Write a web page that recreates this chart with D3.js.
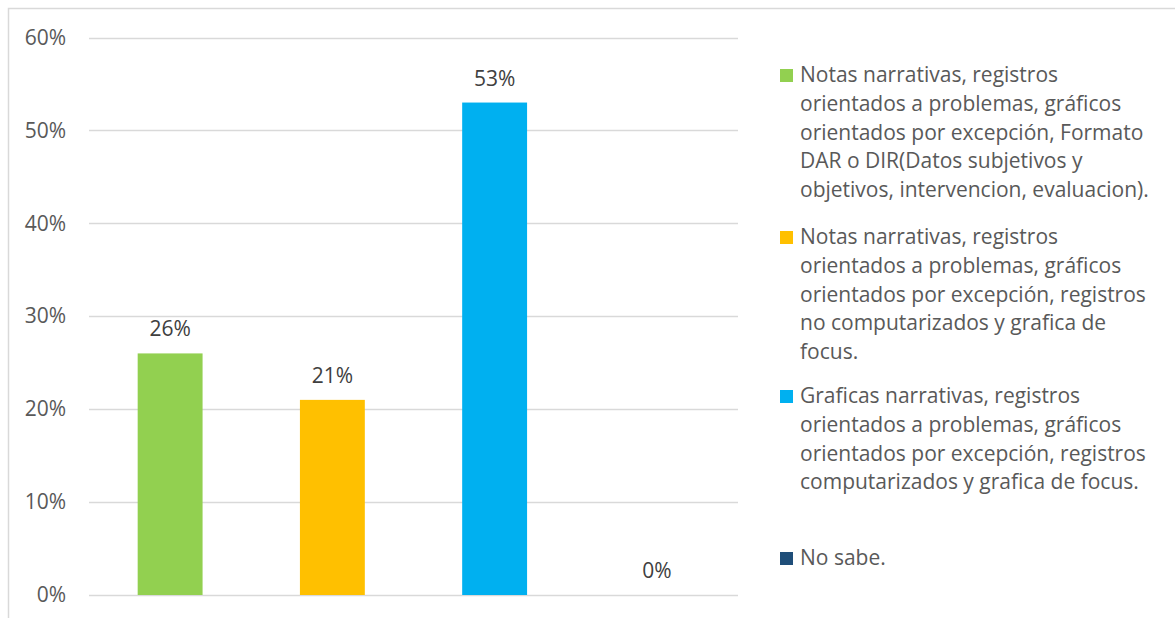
<!DOCTYPE html>
<html>
<head>
<meta charset="utf-8">
<script src="https://cdn.jsdelivr.net/npm/d3@7"></script>
<style>
  html, body { margin: 0; padding: 0; background: #fff; }
  svg { display: block; font-family: "Open Sans", Lato, sans-serif; }
</style>
</head>
<body>
<svg id="chart" width="1175" height="618"></svg>
<script>
// Categories (legend entries), one bar each
const categories = [
  "Notas narrativas, registros orientados a problemas, gráficos orientados por excepción, Formato DAR o DIR(Datos subjetivos y objetivos, intervencion, evaluacion).",
  "Notas narrativas, registros orientados a problemas, gráficos orientados por excepción, registros no computarizados y grafica de focus.",
  "Graficas narrativas, registros orientados a problemas, gráficos orientados por excepción, registros computarizados y grafica de focus.",
  "No sabe."
];
// Wrapped legend lines for each category
const legendLines = [
  ["Notas narrativas, registros", "orientados a problemas, gráficos", "orientados por excepción, Formato", "DAR o DIR(Datos subjetivos y", "objetivos, intervencion, evaluacion)."],
  ["Notas narrativas, registros", "orientados a problemas, gráficos", "orientados por excepción, registros", "no computarizados y grafica de", "focus."],
  ["Graficas narrativas, registros", "orientados a problemas, gráficos", "orientados por excepción, registros", "computarizados y grafica de focus."],
  ["No sabe."]
];
const values = [0.26, 0.21, 0.53, 0];
const colors = ["#92d050", "#ffc000", "#00b0f0", "#1f4e79"];
const yTicks = [0, 0.1, 0.2, 0.3, 0.4, 0.5, 0.6];

const FONT = "21px";
const svg = d3.select("#chart");

// Outer frame (left and top edges visible)
svg.append("rect")
  .attr("x", 8.5).attr("y", 8.5)
  .attr("width", 1200).attr("height", 640)
  .attr("fill", "none").attr("stroke", "#d9d9d9").attr("stroke-width", 1.5);

const plot = { left: 89, right: 738, top: 37, bottom: 595 };

const x = d3.scaleBand()
  .domain(d3.range(categories.length))
  .range([plot.left, plot.right])
  .paddingInner(0.6)
  .paddingOuter(0.3);

const y = d3.scaleLinear()
  .domain([0, 0.6])
  .range([plot.bottom, plot.top + 0.5]);

// Gridlines
svg.append("g")
  .selectAll("line")
  .data(yTicks)
  .join("line")
  .attr("x1", plot.left).attr("x2", plot.right)
  .attr("y1", d => Math.round(y(d)) + 0.5)
  .attr("y2", d => Math.round(y(d)) + 0.5)
  .attr("stroke", "#d9d9d9")
  .attr("stroke-width", 1.3);

// Y axis labels
const yAxis = d3.axisLeft(y)
  .tickValues(yTicks)
  .tickFormat(d3.format(".0%"))
  .tickSize(0)
  .tickPadding(23);
const ya = svg.append("g")
  .attr("transform", `translate(${plot.left},0)`)
  .call(yAxis);
ya.select(".domain").remove();
ya.selectAll("text")
  .attr("fill", "#595959")
  .style("font-size", FONT)
  .style("font-family", "'Open Sans', Lato, sans-serif");

// Bars
svg.append("g")
  .selectAll("rect")
  .data(values)
  .join("rect")
  .attr("x", (d, i) => x(i))
  .attr("y", d => y(d))
  .attr("width", x.bandwidth())
  .attr("height", d => y(0) - y(d))
  .attr("fill", (d, i) => colors[i]);

// Value labels
svg.append("g")
  .selectAll("text")
  .data(values)
  .join("text")
  .attr("x", (d, i) => x(i) + x.bandwidth() / 2)
  .attr("y", d => y(d) - 17)
  .attr("text-anchor", "middle")
  .attr("fill", "#404040")
  .style("font-size", FONT)
  .text(d => d3.format(".0%")(d));

// Legend
const legendTop = [82, 244, 403, 565];
const lineH = 28.8;
const lg = svg.append("g");
categories.forEach((c, i) => {
  lg.append("rect")
    .attr("x", 780).attr("y", legendTop[i] - 13)
    .attr("width", 13).attr("height", 13)
    .attr("fill", colors[i]);
  const t = lg.append("text")
    .attr("x", 800).attr("y", legendTop[i])
    .attr("fill", "#595959")
    .style("font-size", FONT);
  legendLines[i].forEach((ln, j) => {
    t.append("tspan").attr("x", 800).attr("y", legendTop[i] + j * lineH).text(ln);
  });
});
</script>
</body>
</html>
